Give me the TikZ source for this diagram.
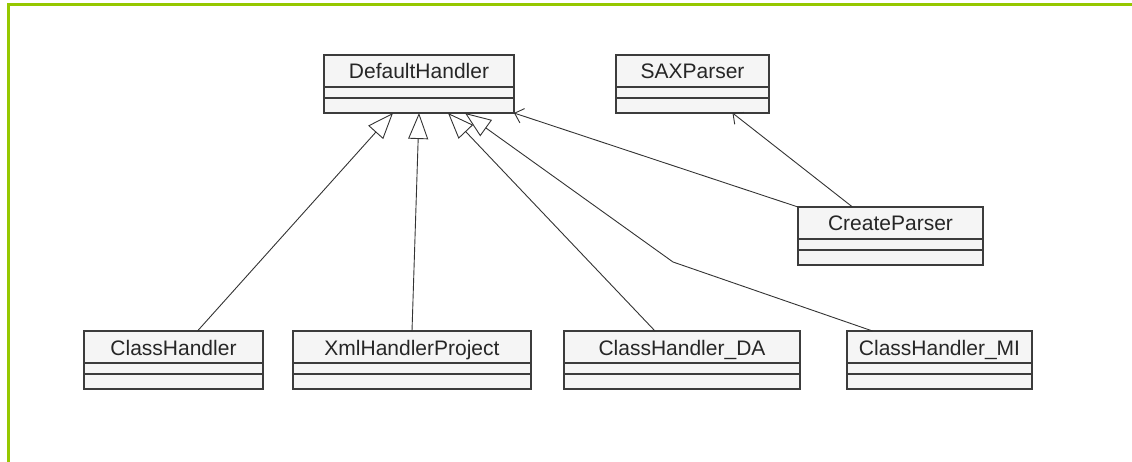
\documentclass[tikz,border=0pt]{standalone}
\usepackage{fontspec}
\setmainfont{Liberation Sans}
\usetikzlibrary{positioning,arrows.meta}
\definecolor{framegreen}{RGB}{150,200,0}
\definecolor{boxfill}{RGB}{245,245,245}
\definecolor{inkgray}{RGB}{60,60,60}
\tikzset{
  classname/.style={draw=inkgray, fill=boxfill, line width=1.3pt, outer sep=0pt,
    minimum height=32pt, text height=16pt, text depth=0pt, inner sep=0pt,
    font=\fontsize{21}{24}\selectfont, text=black!85},
  classpart/.style={draw=inkgray, fill=boxfill, line width=1.3pt, outer sep=0pt, inner sep=0pt},
  inherit/.style={draw=black!80, line width=0.9pt, -{Triangle[open, length=26pt, width=20pt, line width=0.9pt]}},
  uses/.style={draw=black!80, line width=0.9pt, -{Straight Barb[length=8pt, width=15pt, line width=0.9pt]}},
}
% one class box: name, x, top y, width, text
\newcommand{\umlbox}[5]{
  \node[classname, minimum width=#4, anchor=north] (#1) at (#2,#3) {#5};
  \node[classpart, minimum width=#4, minimum height=11pt, below=0pt of #1] (#1-a) {};
  \node[classpart, minimum width=#4, minimum height=15pt, below=0pt of #1-a] (#1-o) {};
}
\begin{document}
\begin{tikzpicture}[x=1pt,y=-1pt]
  \useasboundingbox (0,0) rectangle (1132,462);
  % green frame
  \draw[framegreen, line width=3pt] (1132,5) -- (8,5) -- (8,462);
  % top classes
  \umlbox{dh}{419}{55}{190}{DefaultHandler}
  \umlbox{sax}{692.5}{55}{153}{SAXParser}
  \umlbox{cp}{890.5}{207}{185}{CreateParser}
  % bottom classes
  \umlbox{ch}{173.5}{331}{179}{ClassHandler}
  \umlbox{xhp}{412}{331}{238}{XmlHandlerProject}
  \umlbox{chda}{682}{331}{236}{ClassHandler\_DA}
  \umlbox{chmi}{939.5}{331}{185}{ClassHandler\_MI}
  % bend of the last line
  \coordinate (bend) at (673,262);
  % generalizations
  \draw[inherit] ([xshift=24pt]ch.north) -- ([xshift=-26pt]dh-o.south);
  \draw[inherit] (xhp.north) -- (dh-o.south);
  \draw[inherit] ([xshift=-27pt]chda.north) -- ([xshift=29pt]dh-o.south);
  \draw[inherit] ([xshift=-67pt]chmi.north) -- (bend) -- ([xshift=46pt]dh-o.south);
  % associations
  \draw[uses] (cp.north west) -- (dh-o.south east);
  \draw[uses] ([xshift=-38pt]cp.north) -- ([xshift=40pt]sax-o.south);
\end{tikzpicture}
\end{document}
